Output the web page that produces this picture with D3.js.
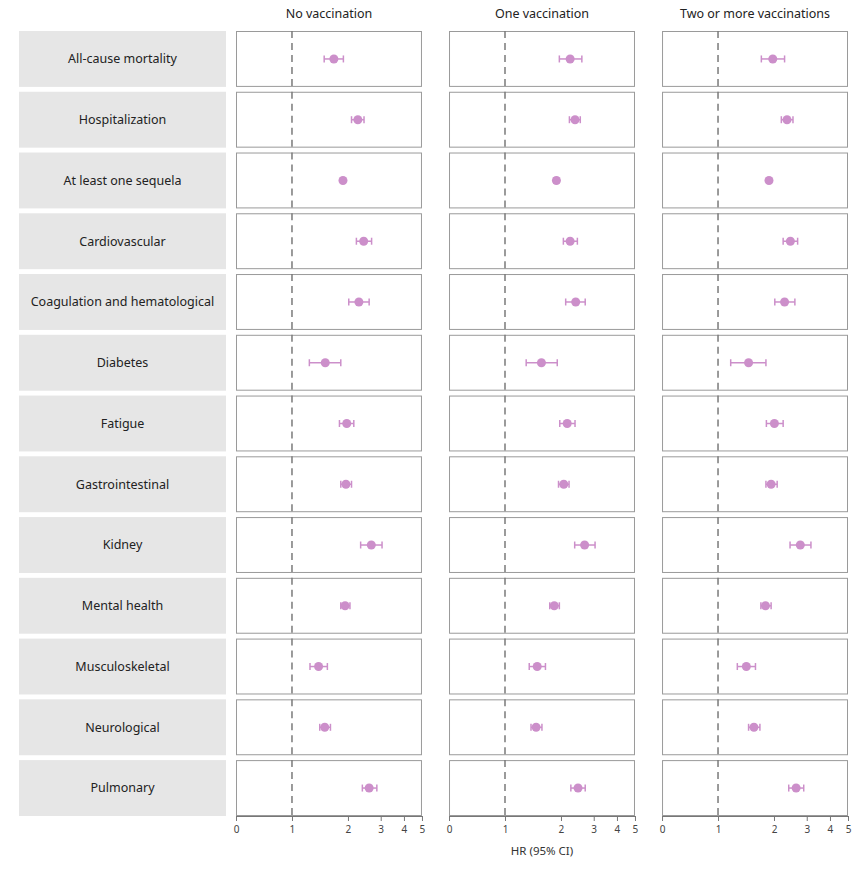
<!DOCTYPE html>
<html>
<head>
<meta charset="utf-8">
<script src="https://cdn.jsdelivr.net/npm/d3@7"></script>
<style>
  body { margin: 0; background: #fff; }
  text { font-family: "Noto Sans", sans-serif; }
</style>
</head>
<body>
<div id="chart"></div>
<script>
var outcomes = ['All-cause mortality', 'Hospitalization', 'At least one sequela', 'Cardiovascular',
  'Coagulation and hematological', 'Diabetes', 'Fatigue', 'Gastrointestinal', 'Kidney',
  'Mental health', 'Musculoskeletal', 'Neurological', 'Pulmonary'];

var groups = ['No vaccination', 'One vaccination', 'Two or more vaccinations'];

// hazard ratios and 95% CI, one array per group, in the order of outcomes
var hrNone = [1.68, 2.26, 1.88, 2.43, 2.29, 1.51, 1.97, 1.95, 2.67, 1.93, 1.39, 1.50, 2.60];
var loNone = [1.49, 2.09, 1.83, 2.22, 2.02, 1.24, 1.80, 1.83, 2.34, 1.83, 1.25, 1.41, 2.39];
var hiNone = [1.89, 2.44, 1.93, 2.68, 2.60, 1.83, 2.15, 2.09, 3.05, 2.05, 1.55, 1.61, 2.86];

var hrOne = [2.24, 2.38, 1.89, 2.24, 2.40, 1.57, 2.16, 2.07, 2.68, 1.84, 1.49, 1.47, 2.47];
var loOne = [1.96, 2.22, 1.84, 2.06, 2.12, 1.30, 1.97, 1.94, 2.37, 1.74, 1.35, 1.38, 2.26];
var hiOne = [2.59, 2.54, 1.94, 2.45, 2.70, 1.91, 2.38, 2.21, 3.05, 1.96, 1.65, 1.58, 2.70];

var hrTwo = [1.97, 2.35, 1.88, 2.45, 2.28, 1.46, 2.01, 1.93, 2.77, 1.80, 1.42, 1.56, 2.63];
var loTwo = [1.71, 2.19, 1.83, 2.24, 2.02, 1.17, 1.82, 1.81, 2.44, 1.70, 1.27, 1.46, 2.40];
var hiTwo = [2.28, 2.53, 1.93, 2.68, 2.59, 1.81, 2.24, 2.08, 3.16, 1.93, 1.59, 1.68, 2.89];

var tickValues = [0.5, 1, 2, 3, 4, 5];
var tickLabels = ['0', '1', '2', '3', '4', '5'];
var refValue = 1;

var series = [
  { hr: hrNone, lo: loNone, hi: hiNone },
  { hr: hrOne, lo: loOne, hi: hiOne },
  { hr: hrTwo, lo: loTwo, hi: hiTwo }
];

var width = 867, height = 869;
var pointColor = '#cc8fca';

var svg = d3.select('#chart').append('svg')
  .attr('width', width)
  .attr('height', height);

var yScale = d3.scaleBand()
  .domain(outcomes)
  .range([31, 816])
  .paddingInner(0.08)
  .paddingOuter(0);

var colScale = d3.scaleBand()
  .domain(groups)
  .range([236, 848])
  .paddingInner(0.127)
  .paddingOuter(0);

var panelW = colScale.bandwidth();

var xScale = d3.scaleLog()
  .domain([0.5, 5])
  .range([0, panelW]);

// label boxes on the left
var labels = svg.append('g');
labels.selectAll('rect')
  .data(outcomes)
  .enter().append('rect')
  .attr('x', 19)
  .attr('y', function(d) { return yScale(d); })
  .attr('width', 207)
  .attr('height', yScale.bandwidth())
  .attr('fill', '#e6e6e6');

labels.selectAll('text')
  .data(outcomes)
  .enter().append('text')
  .attr('x', 19 + 207 / 2)
  .attr('y', function(d) { return yScale(d) + yScale.bandwidth() / 2; })
  .attr('dy', '0.35em')
  .attr('text-anchor', 'middle')
  .attr('font-size', 12.5)
  .attr('fill', '#222')
  .text(function(d) { return d; });

groups.forEach(function(g, gi) {
  var s = series[gi];
  var panel = svg.append('g')
    .attr('transform', 'translate(' + colScale(g) + ',0)');

  // column title
  panel.append('text')
    .attr('x', panelW / 2)
    .attr('y', 18)
    .attr('text-anchor', 'middle')
    .attr('font-size', 12.5)
    .attr('fill', '#222')
    .text(g);

  outcomes.forEach(function(o, i) {
    var y0 = yScale(o);
    var cy = y0 + yScale.bandwidth() / 2;
    var row = panel.append('g');

    row.append('rect')
      .attr('x', 0.5)
      .attr('y', y0 + 0.5)
      .attr('width', panelW - 1)
      .attr('height', yScale.bandwidth() - 1)
      .attr('fill', '#fff')
      .attr('stroke', '#9a9a9a')
      .attr('stroke-width', 1);

    row.append('line')
      .attr('x1', xScale(refValue))
      .attr('x2', xScale(refValue))
      .attr('y1', y0)
      .attr('y2', y0 + yScale.bandwidth())
      .attr('stroke', '#7a7a7a')
      .attr('stroke-width', 1.5)
      .attr('stroke-dasharray', '7,5');

    // CI whisker
    row.append('line')
      .attr('x1', xScale(s.lo[i]))
      .attr('x2', xScale(s.hi[i]))
      .attr('y1', cy)
      .attr('y2', cy)
      .attr('stroke', pointColor)
      .attr('stroke-width', 1.5);

    [s.lo[i], s.hi[i]].forEach(function(v) {
      row.append('line')
        .attr('x1', xScale(v))
        .attr('x2', xScale(v))
        .attr('y1', cy - 3.5)
        .attr('y2', cy + 3.5)
        .attr('stroke', pointColor)
        .attr('stroke-width', 1.5);
    });

    row.append('circle')
      .attr('cx', xScale(s.hr[i]))
      .attr('cy', cy)
      .attr('r', 4.5)
      .attr('fill', pointColor);
  });

  // bottom axis
  var axis = d3.axisBottom(xScale)
    .tickValues(tickValues)
    .tickFormat(function(d, i) { return tickLabels[i]; })
    .tickSize(5)
    .tickSizeOuter(0);

  var ax = panel.append('g')
    .attr('transform', 'translate(0,' + yScale.range()[1] + ')')
    .call(axis);
  ax.select('.domain').attr('stroke', '#777');
  ax.selectAll('.tick line').attr('stroke', '#777');
  ax.selectAll('.tick text')
    .attr('font-family', '"Noto Sans", sans-serif')
    .attr('font-size', 10)
    .attr('fill', '#444')
    .attr('dy', '0.9em');
});

// x axis title under the middle panel
svg.append('text')
  .attr('x', colScale(groups[1]) + panelW / 2)
  .attr('y', 855)
  .attr('text-anchor', 'middle')
  .attr('font-size', 11.5)
  .attr('fill', '#333')
  .text('HR (95% CI)');
</script>
</body>
</html>
